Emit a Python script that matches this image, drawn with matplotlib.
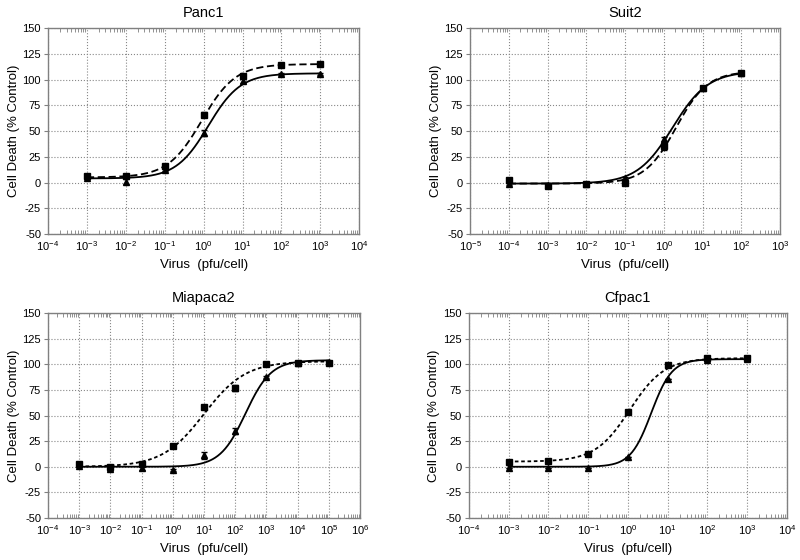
import numpy as np
import matplotlib.pyplot as plt
from matplotlib.ticker import LogLocator, FixedLocator, FixedFormatter, NullFormatter

plt.rcParams['font.family'] = ['Liberation Sans', 'DejaVu Sans']
plt.rcParams['mathtext.fontset'] = 'custom'
plt.rcParams['mathtext.rm'] = 'Liberation Sans'
plt.rcParams['mathtext.default'] = 'regular'
plt.rcParams['axes.unicode_minus'] = False

# Panel titles and x-axis decade limits
titles = ["Panc1", "Suit2", "Miapaca2", "Cfpac1"]
xlims_exp = [(-4, 4), (-5, 3), (-4, 6), (-4, 4)]

# Data (dose in pfu/cell, % cell death)
panc1_x = [1e-3, 1e-2, 1e-1, 1e0, 1e1, 1e2, 1e3]
panc1_sq = [6, 6, 16, 66, 103, 114, 115]
panc1_tri = [4, 1, 12, 48, 99, 105, 105]

suit2_x = [1e-4, 1e-3, 1e-2, 1e-1, 1e0, 1e1, 1e2]
suit2_sq = [2, -3, -1, 0, 35, 92, 106]
suit2_tri = [-1, -2, -1, 4, 42, 92, 106]

mia_x = [1e-3, 1e-2, 1e-1, 1e0, 1e1, 1e2, 1e3, 1e4, 1e5]
mia_sq = [3, 0, 3, 20, 58, 77, 100, 101, 101]
mia_tri = [1, -2, -1, -3, 11, 35, 88, 101, 102]

cf_x = [1e-3, 1e-2, 1e-1, 1e0, 1e1, 1e2, 1e3]
cf_sq = [5, 6, 12, 53, 99, 106, 106]
cf_tri = [-1, -1, -1, 10, 86, 104, 105]

# small error bars (SEM)
panc1_sq_err = [1, 1, 1, 2, 2, 1, 1]
panc1_tri_err = [1, 2, 1, 3, 2, 1, 1]
suit2_sq_err = [2, 1, 1, 1, 3, 1, 1]
suit2_tri_err = [1, 1, 1, 1, 2, 1, 1]
mia_sq_err = [1, 1, 1, 1, 1, 3, 1, 1, 1]
mia_tri_err = [1, 2, 2, 1, 3, 3, 1, 1, 1]
cf_sq_err = [0, 0, 0, 0, 0, 1, 1]
cf_tri_err = [0, 0, 0, 0, 0, 1, 1]

# Sigmoidal fit parameters: bottom, top, logEC50, hill
panc1_sq_fit = (5, 115, -0.05, 1.0)
panc1_tri_fit = (4, 106, 0.12, 1.05)
suit2_sq_fit = (-1, 108, 0.32, 1.07)
suit2_tri_fit = (-1, 108, 0.23, 0.95)
mia_sq_fit = (0, 103, 1.0, 0.65)
mia_tri_fit = (0, 104, 2.33, 1.06)
cf_sq_fit = (5, 106, 0.05, 1.0)
cf_tri_fit = (0, 105, 0.59, 1.67)

panels = [
    (panc1_x, panc1_sq, panc1_sq_err, panc1_sq_fit, panc1_tri, panc1_tri_err, panc1_tri_fit, (0, (4, 2))),
    (suit2_x, suit2_sq, suit2_sq_err, suit2_sq_fit, suit2_tri, suit2_tri_err, suit2_tri_fit, (0, (4, 2))),
    (mia_x, mia_sq, mia_sq_err, mia_sq_fit, mia_tri, mia_tri_err, mia_tri_fit, (0, (2, 1.5))),
    (cf_x, cf_sq, cf_sq_err, cf_sq_fit, cf_tri, cf_tri_err, cf_tri_fit, (0, (2, 1.5))),
]

positions = [
    [0.060, 0.582, 0.389, 0.368],
    [0.5875, 0.582, 0.3875, 0.368],
    [0.060, 0.075, 0.390, 0.366],
    [0.586, 0.075, 0.3975, 0.366],
]


def sigmoid(x, p):
    bottom, top, logec, hill = p
    return bottom + (top - bottom) / (1 + 10 ** (hill * (logec - np.log10(x))))


def sup(e):
    return r'$10^{%d}$' % e


fig = plt.figure(figsize=(8, 5.6), dpi=100)
spine_col = '#808080'

for i, (x, sq, sqe, sqf, tri, trie, trif, ls) in enumerate(panels):
    ax = fig.add_axes(positions[i])
    ax.set_xscale('log')
    lo, hi = xlims_exp[i]
    ax.set_xlim(10.0 ** lo, 10.0 ** hi)
    ax.set_ylim(-50, 150)

    xs = np.logspace(np.log10(x[0]), np.log10(x[-1]), 300)
    ax.plot(xs, sigmoid(xs, sqf), color='black', lw=1.3, ls=ls, zorder=3)
    ax.plot(xs, sigmoid(xs, trif), color='black', lw=1.3, ls='-', zorder=3)
    ax.errorbar(x, sq, yerr=sqe, fmt='s', color='black', ms=4.5, capsize=2,
                elinewidth=0.8, zorder=4)
    ax.errorbar(x, tri, yerr=trie, fmt='^', color='black', ms=4.5, capsize=2,
                elinewidth=0.8, zorder=4)

    exps = list(range(lo, hi + 1))
    ax.xaxis.set_major_locator(FixedLocator([10.0 ** e for e in exps]))
    ax.xaxis.set_major_formatter(FixedFormatter([sup(e) for e in exps]))
    ax.xaxis.set_minor_locator(LogLocator(base=10, subs=np.arange(2, 10), numticks=50))
    ax.xaxis.set_minor_formatter(NullFormatter())
    ax.set_yticks(np.arange(-50, 151, 25))

    ax.tick_params(axis='x', which='major', length=0, labelsize=8, pad=4)
    ax.tick_params(axis='x', which='minor', direction='in', length=3,
                   top=True, bottom=True, color=spine_col, width=0.6)
    ax.tick_params(axis='y', which='major', direction='out', length=3,
                   labelsize=8, color=spine_col, pad=2)

    ax.grid(True, which='major', ls=':', color='#888888', lw=0.8)
    for s in ax.spines.values():
        s.set_color(spine_col)
        s.set_linewidth(1.0)

    ax.set_title(titles[i], fontsize=10.5, pad=8)
    ax.set_xlabel('Virus  (pfu/cell)', fontsize=9.5, labelpad=4)
    ax.set_ylabel('Cell Death (% Control)', fontsize=9.5, labelpad=2)

plt.savefig('out.png', dpi=100)
